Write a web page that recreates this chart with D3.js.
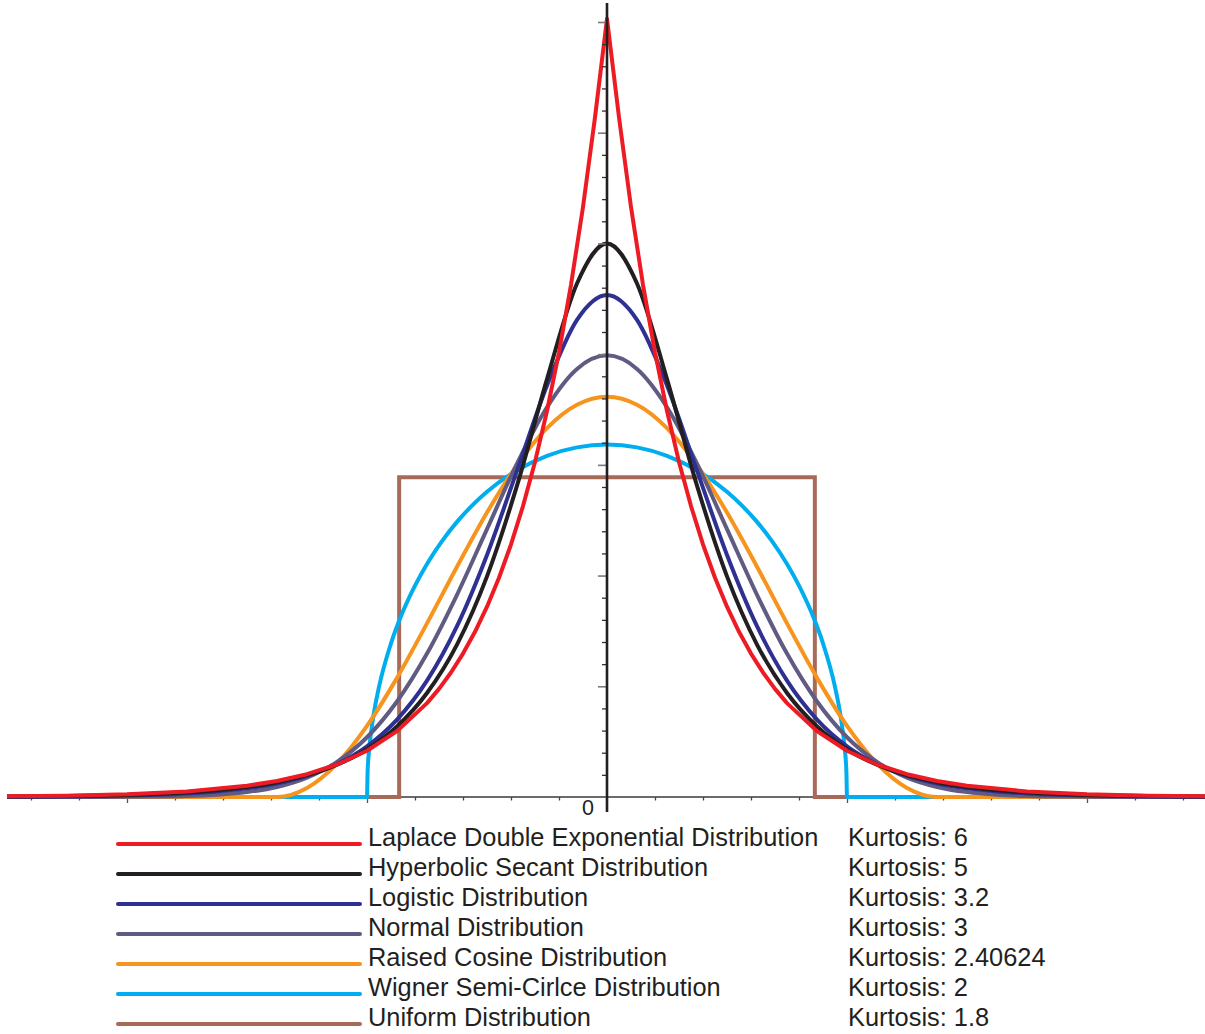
<!DOCTYPE html>
<html>
<head>
<meta charset="utf-8">
<script src="https://cdn.jsdelivr.net/npm/d3@7"></script>
<style>
  html, body { margin: 0; padding: 0; background: #fff; }
  svg { display: block; }
  text { font-family: "Liberation Sans", Arial, Helvetica, sans-serif; fill: #231f20; }
</style>
</head>
<body>
<svg id="chart" width="1205" height="1034"></svg>
<script>
// Unit-variance densities, sampled at the points below.
const gridX = [-5, -4.75, -4.5, -4.25, -4, -3.75, -3.5, -3.25, -3, -2.75, -2.5, -2.25, -2, -1.75, -1.5, -1.25, -1, -0.75, -0.5, -0.25,
  0, 0.25, 0.5, 0.75, 1, 1.25, 1.5, 1.75, 2, 2.25, 2.5, 2.75, 3, 3.25, 3.5, 3.75, 4, 4.25, 4.5, 4.75, 5];

const sechY = [0.00039, 0.00057, 0.00085, 0.00126, 0.00187, 0.00277, 0.00410, 0.00607, 0.00898, 0.01330, 0.01970, 0.02915, 0.04313, 0.06373, 0.09393, 0.13765, 0.19927, 0.28121, 0.37747, 0.46378,
  0.5, 0.46378, 0.37747, 0.28121, 0.19927, 0.13765, 0.09393, 0.06373, 0.04313, 0.02915, 0.01970, 0.01330, 0.00898, 0.00607, 0.00410, 0.00277, 0.00187, 0.00126, 0.00085, 0.00057, 0.00039];

const logisticY = [0.00021, 0.00033, 0.00052, 0.00081, 0.00128, 0.00201, 0.00316, 0.00497, 0.00779, 0.01220, 0.01905, 0.02962, 0.04575, 0.06990, 0.10510, 0.15428, 0.21862, 0.29473, 0.37165, 0.43092,
  0.45345, 0.43092, 0.37165, 0.29473, 0.21862, 0.15428, 0.10510, 0.06990, 0.04575, 0.02962, 0.01905, 0.01220, 0.00779, 0.00497, 0.00316, 0.00201, 0.00128, 0.00081, 0.00052, 0.00033, 0.00021];

const normalY = [0, 0.00001, 0.00002, 0.00005, 0.00013, 0.00035, 0.00087, 0.00203, 0.00443, 0.00909, 0.01753, 0.03174, 0.05399, 0.08628, 0.12952, 0.18265, 0.24197, 0.30114, 0.35207, 0.38667,
  0.39894, 0.38667, 0.35207, 0.30114, 0.24197, 0.18265, 0.12952, 0.08628, 0.05399, 0.03174, 0.01753, 0.00909, 0.00443, 0.00203, 0.00087, 0.00035, 0.00013, 0.00005, 0.00002, 0.00001, 0];

const cosineY = [0, 0, 0, 0, 0, 0, 0, 0, 0, 0.00003, 0.00819, 0.03018, 0.06422, 0.10759, 0.15682, 0.20797, 0.25694, 0.29981, 0.33314, 0.35427,
  0.36151, 0.35427, 0.33314, 0.29981, 0.25694, 0.20797, 0.15682, 0.10759, 0.06422, 0.03018, 0.00819, 0.00003, 0, 0, 0, 0, 0, 0, 0, 0, 0];

const laplaceX = [-5, -4.5, -4, -3.5, -3, -2.75, -2.5, -2.25, -2, -1.75, -1.5, -1.4, -1.3, -1.2, -1.1, -1, -0.9, -0.8, -0.7, -0.6, -0.5, -0.4, -0.3, -0.2, -0.1,
  0, 0.1, 0.2, 0.3, 0.4, 0.5, 0.6, 0.7, 0.8, 0.9, 1, 1.1, 1.2, 1.3, 1.4, 1.5, 1.75, 2, 2.25, 2.5, 2.75, 3, 3.5, 4, 4.5, 5];
const laplaceY = [0.00060, 0.00122, 0.00247, 0.00501, 0.01016, 0.01447, 0.02061, 0.02935, 0.04180, 0.05951, 0.08477, 0.09764, 0.11247, 0.12955, 0.14924, 0.17191, 0.19802, 0.22810, 0.26276, 0.30267, 0.34865, 0.40162, 0.46263, 0.53291, 0.61385,
  0.703, 0.61385, 0.53291, 0.46263, 0.40162, 0.34865, 0.30267, 0.26276, 0.22810, 0.19802, 0.17191, 0.14924, 0.12955, 0.11247, 0.09764, 0.08477, 0.05951, 0.04180, 0.02935, 0.02061, 0.01447, 0.01016, 0.00501, 0.00247, 0.00122, 0.00060];

const wignerX = [-5, -2, -1.995, -1.98, -1.95, -1.9, -1.8, -1.7, -1.6, -1.5, -1.375, -1.25, -1.125, -1, -0.75, -0.5, -0.25,
  0, 0.25, 0.5, 0.75, 1, 1.125, 1.25, 1.375, 1.5, 1.6, 1.7, 1.8, 1.9, 1.95, 1.98, 1.995, 2, 5];
const wignerY = [0, 0, 0.02249, 0.04490, 0.07073, 0.09939, 0.13875, 0.16768, 0.19099, 0.21054, 0.23115, 0.24848, 0.26318, 0.27566, 0.29508, 0.30820, 0.31581,
  0.31831, 0.31581, 0.30820, 0.29508, 0.27566, 0.26318, 0.24848, 0.23115, 0.21054, 0.19099, 0.16768, 0.13875, 0.09939, 0.07073, 0.04490, 0.02249, 0, 0];

const uniformX = [-5, -1.732, -1.732, 1.732, 1.732, 5];
const uniformY = [0, 0, 0.2887, 0.2887, 0, 0];

const names = [
  "Laplace Double Exponential Distribution",
  "Hyperbolic Secant Distribution",
  "Logistic Distribution",
  "Normal Distribution",
  "Raised Cosine Distribution",
  "Wigner Semi-Cirlce Distribution",
  "Uniform Distribution"
];
const kurtosis = ["6", "5", "3.2", "3", "2.40624", "2", "1.8"];
const colors = ["#ed1c24", "#231f20", "#2e3192", "#5f5b82", "#f7941d", "#00aeef", "#a86a58"];

const xMinorTicks = [-4.8, -4.4, -3.6, -3.2, -2.8, -2.4, -1.6, -1.2, -0.8, -0.4, 0.4, 0.8, 1.2, 1.6, 2.4, 2.8, 3.2, 3.6, 4.4, 4.8];
const xMajorTicks = [-4, -2, 2, 4];
const yMajorTicks = [0.1, 0.2, 0.3, 0.4, 0.5, 0.6, 0.7];
const yMinorTicks = [0.02, 0.04, 0.06, 0.08, 0.12, 0.14, 0.16, 0.18, 0.22, 0.24, 0.26, 0.28, 0.32, 0.34, 0.36, 0.38,
  0.42, 0.44, 0.46, 0.48, 0.52, 0.54, 0.56, 0.58, 0.62, 0.64, 0.66, 0.68];
const zeroLabel = "0";

// ---------- drawing ----------
const svg = d3.select("#chart");
svg.append("rect").attr("width", 1205).attr("height", 1034).attr("fill", "#fff");

const x = d3.scaleLinear().domain([-5, 5]).range([7, 1207]);
const y = d3.scaleLinear().domain([0, 0.7]).range([797, 22]);

const zip = (xs, ys) => xs.map((v, i) => [v, ys[i]]);
const series = [
  { pts: zip(laplaceX, laplaceY), curve: d3.curveLinear },
  { pts: zip(gridX, sechY), curve: d3.curveMonotoneX },
  { pts: zip(gridX, logisticY), curve: d3.curveMonotoneX },
  { pts: zip(gridX, normalY), curve: d3.curveMonotoneX },
  { pts: zip(gridX, cosineY), curve: d3.curveMonotoneX },
  { pts: zip(wignerX, wignerY), curve: d3.curveMonotoneX },
  { pts: zip(uniformX, uniformY), curve: d3.curveLinear }
];

// horizontal baseline
svg.append("line")
  .attr("x1", x(-5)).attr("x2", 1205)
  .attr("y1", y(0)).attr("y2", y(0))
  .attr("stroke", "#3a3a3a").attr("stroke-width", 1.6);

// x ticks
function styleAxis(g, color, width) {
  g.select(".domain").remove();
  g.selectAll(".tick line").attr("stroke", color).attr("stroke-width", width);
  g.selectAll(".tick text").remove();
}
svg.append("g").attr("transform", `translate(0,${y(0)})`)
  .call(d3.axisBottom(x).tickValues(xMinorTicks).tickSize(3.5).tickFormat(""))
  .call(g => styleAxis(g, "#444", 1.3));
svg.append("g").attr("transform", `translate(0,${y(0)})`)
  .call(d3.axisBottom(x).tickValues(xMajorTicks).tickSize(6).tickFormat(""))
  .call(g => styleAxis(g, "#555", 1.3));

// curves, last legend entry underneath
const line = d3.line().x(d => x(d[0])).y(d => y(d[1]));
series.slice().reverse().forEach((s, k) => {
  const i = series.length - 1 - k;
  svg.append("path")
    .datum(s.pts)
    .attr("d", line.curve(s.curve))
    .attr("fill", "none")
    .attr("stroke", colors[i])
    .attr("stroke-width", 4)
    .attr("stroke-linejoin", i === 6 ? "miter" : "round");
});

// y ticks
svg.append("g").attr("transform", `translate(${x(0)},0)`)
  .call(d3.axisLeft(y).tickValues(yMinorTicks).tickSize(5).tickFormat(""))
  .call(g => styleAxis(g, "#333", 1.3));
svg.append("g").attr("transform", `translate(${x(0)},0)`)
  .call(d3.axisLeft(y).tickValues(yMajorTicks).tickSize(9).tickFormat(""))
  .call(g => styleAxis(g, "#7a7a7a", 1.6));

// vertical axis on top
svg.append("line")
  .attr("x1", x(0)).attr("x2", x(0))
  .attr("y1", 3).attr("y2", 812)
  .attr("stroke", "#231f20").attr("stroke-width", 2.6);

svg.append("text")
  .attr("x", 588).attr("y", 814.5)
  .attr("text-anchor", "middle")
  .attr("font-size", 21.5)
  .text(zeroLabel);

// legend
const legend = svg.append("g");
names.forEach((name, i) => {
  const ly = 844 + i * 30;
  legend.append("line")
    .attr("x1", 118).attr("x2", 360)
    .attr("y1", ly).attr("y2", ly)
    .attr("stroke", colors[i]).attr("stroke-width", 4)
    .attr("stroke-linecap", "round");
  legend.append("text")
    .attr("x", 368).attr("y", ly + 1.5)
    .attr("font-size", 25.4)
    .text(name);
  legend.append("text")
    .attr("x", 848).attr("y", ly + 1.5)
    .attr("font-size", 25.4)
    .text("Kurtosis: " + kurtosis[i]);
});
</script>
</body>
</html>
